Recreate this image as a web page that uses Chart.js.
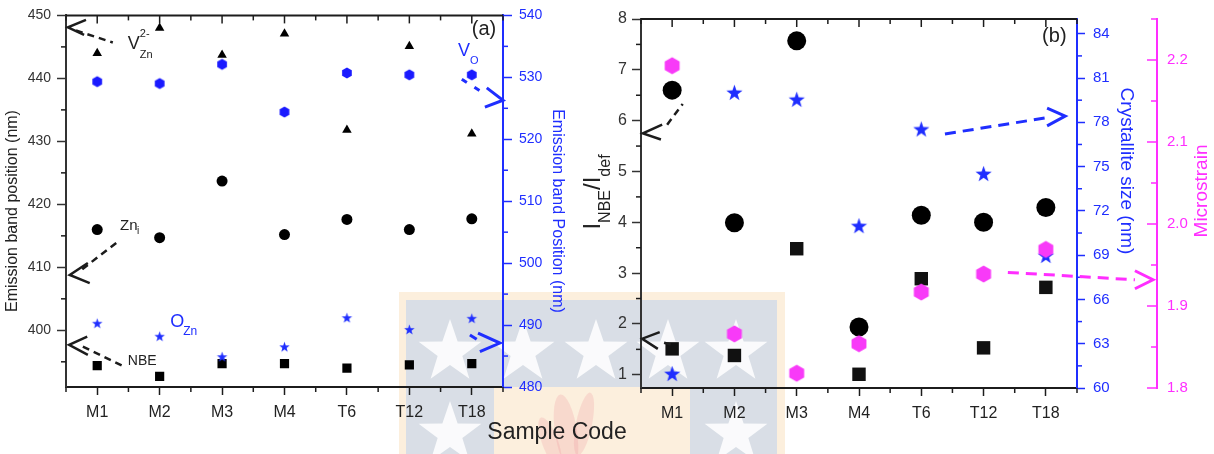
<!DOCTYPE html>
<html>
<head>
<meta charset="utf-8">
<script src="https://cdn.jsdelivr.net/npm/chart.js@4.4.1/dist/chart.umd.min.js"></script>
<style>
  html, body { margin: 0; padding: 0; background: #fff; }
  #wrap { position: relative; width: 1214px; height: 454px; overflow: hidden; font-family: "Liberation Sans", Arial, sans-serif; }
  #bg, #cA, #cB { position: absolute; top: 0; }
  #bg { left: 0; }
  #cA { left: 0; }
  #cB { left: 560px; }
  #xlab { position: absolute; left: 457px; top: 420px; width: 200px; text-align: center; font-size: 23px; line-height: 23px; color: #222; }
</style>
</head>
<body>
<div id="wrap">
  <canvas id="bg" width="1214" height="454"></canvas>
  <canvas id="cA" width="600" height="454"></canvas>
  <canvas id="cB" width="654" height="454"></canvas>
  <div id="xlab">Sample Code</div>
</div>
<script>
// sample codes on the shared x axis
const samples = ['M1', 'M2', 'M3', 'M4', 'T6', 'T12', 'T18'];

// panel (a) emission band positions, left axis (nm)
const vZnPos = [444.0, 448.0, 443.7, 447.1, 431.8, 445.1, 431.2];
const znIPos = [416.0, 414.7, 423.7, 415.2, 417.6, 416.0, 417.7];
const nbePos = [394.4, 392.7, 394.7, 394.7, 394.0, 394.5, 394.7];
// panel (a) right axis (nm)
const vOPos  = [529.3, 529.0, 532.1, 524.4, 530.7, 530.4, 530.4];
const oZnPos = [490.3, 488.2, 484.9, 486.5, 491.2, 489.3, 491.1];

// panel (b)
const ratioCircle = [6.60, 3.99, 7.57, 1.94, 4.14, 4.00, 4.29];
const ratioSquare = [1.51, 1.38, 3.48, 1.01, 2.89, 1.53, 2.72];
const crystSize   = [60.98, 80.03, 79.56, 71.0, 77.55, 74.53, 68.98];
const microstrain = [2.193, 1.866, 1.818, 1.854, 1.917, 1.939, 1.969];

// tick labels
const ticksAL = [400, 410, 420, 430, 440, 450];
const ticksAR = [480, 490, 500, 510, 520, 530, 540];
const ticksBL = [1, 2, 3, 4, 5, 6, 7, 8];
const ticksBB = [60, 63, 66, 69, 72, 75, 78, 81, 84];
const ticksBM = [1.8, 1.9, 2.0, 2.1, 2.2];

const INK = '#1c1c1c';
const BLUE = '#1f2eff';
const MAG = '#ff2eff';
const FONT = '"Liberation Sans", Arial, sans-serif';

Chart.defaults.font.family = FONT;

const pts = arr => arr.map((v, i) => ({x: i + 1, y: v}));

function hexagon(r, color) {
    const s = Math.ceil(2 * r) + 2;
    const c = document.createElement('canvas');
    c.width = s; c.height = s;
    const g = c.getContext('2d');
    g.fillStyle = color;
    g.beginPath();
    for (let k = 0; k < 6; k++) {
        const a = -Math.PI / 2 + k * Math.PI / 3;
        const x = s / 2 + r * Math.cos(a), y = s / 2 + r * Math.sin(a);
        k ? g.lineTo(x, y) : g.moveTo(x, y);
    }
    g.closePath();
    g.fill();
    return c;
}

function starPath(g, cx, cy, R, r) {
    g.beginPath();
    for (let k = 0; k < 10; k++) {
        const a = -Math.PI / 2 + k * Math.PI / 5;
        const rr = k % 2 ? r : R;
        const x = cx + rr * Math.cos(a), y = cy + rr * Math.sin(a);
        k ? g.lineTo(x, y) : g.moveTo(x, y);
    }
    g.closePath();
}

function star(R, color) {
    const s = Math.ceil(2 * R) + 2;
    const c = document.createElement('canvas');
    c.width = s; c.height = s;
    const g = c.getContext('2d');
    g.fillStyle = color;
    starPath(g, s / 2, s / 2 + R * 0.1, R, R * 0.4);
    g.fill();
    return c;
}

// watermark behind the plots
(function drawWatermark() {
    const g = document.getElementById('bg').getContext('2d');
    g.fillStyle = '#fcefdd';
    g.fillRect(399, 292, 386, 162);
    g.fillStyle = '#d9dee6';
    g.fillRect(406, 300, 371, 87);
    g.fillRect(406, 387, 88, 67);
    g.fillRect(690, 387, 87, 67);
    g.fillStyle = 'rgba(238,140,150,0.22)';
    [[566, 432, 11, 38, -0.15], [584, 424, 8, 32, 0.2], [550, 442, 8, 26, -0.35]].forEach(([x, y, rx, ry, rot]) => {
        g.beginPath(); g.ellipse(x, y, rx, ry, rot, 0, Math.PI * 2); g.fill();
    });
    g.fillStyle = 'rgba(255,255,255,0.85)';
    [[450, 352], [523, 352], [596, 352], [668, 352], [736, 352], [450, 434], [736, 434]].forEach(([x, y]) => {
        starPath(g, x, y, 33, 13); g.fill();
    });
})();

function fixTicks(values) {
    return s => { s.ticks = values.map(v => ({value: v})); };
}

function xAxis(h) {
    return {
        type: 'linear', min: 0.5, max: 7.5,
        afterBuildTicks: fixTicks(samples.map((_, i) => i + 1)),
        afterFit: s => { s.height = h; },
        ticks: {callback: v => samples[v - 1] || '', color: '#222', font: {size: 16}, padding: 8, maxRotation: 0, autoSkip: false},
        grid: {drawOnChartArea: false, tickLength: 8, color: INK, tickWidth: 1.5},
        border: {color: INK, width: 2}
    };
}

function yAxis(pos, min, max, ticks, width, color, size, tickLen, pad, fmt) {
    return {
        type: 'linear', position: pos, min, max,
        afterBuildTicks: fixTicks(ticks),
        afterFit: s => { s.width = width; },
        ticks: {color, font: {size}, padding: pad, callback: fmt || (v => v)},
        grid: {drawOnChartArea: false, drawTicks: tickLen > 0, tickLength: tickLen, color, tickWidth: 1.5},
        border: {color, width: 2}
    };
}

function line(ctx, x1, y1, x2, y2) {
    ctx.beginPath(); ctx.moveTo(x1, y1); ctx.lineTo(x2, y2); ctx.stroke();
}

// top frame, minor ticks, arrows, labels and rotated titles
const decorPlugin = {
    id: 'decor',
    afterDraw(chart, args, opts) {
        const ctx = chart.ctx, a = chart.chartArea, xs = chart.scales.x;
        ctx.save();
        ctx.strokeStyle = INK;
        ctx.lineWidth = 2;
        line(ctx, a.left, a.top, a.right, a.top);
        ctx.lineWidth = 1.5;
        for (let k = 1; k <= 15; k++) {
            const v = k * 0.5, px = xs.getPixelForValue(v);
            const major = k % 2 === 0;
            line(ctx, px, a.top, px, a.top + (major ? 8 : 5));
            if (!major) line(ctx, px, a.bottom, px, a.bottom + 5);
        }
        (opts.minor || []).forEach(m => {
            const s = chart.scales[m.id];
            const x0 = m.dir < 0 && s.position === 'left' ? s.right : s.left;
            ctx.strokeStyle = m.color;
            for (let k = 0; k < m.count; k++) {
                const py = s.getPixelForValue(m.from + k * m.step);
                line(ctx, x0, py, x0 + m.dir * m.len, py);
            }
        });
        const P = (id, p) => ({x: xs.getPixelForValue(p[0]), y: chart.scales[id].getPixelForValue(p[1])});
        (opts.arrows || []).forEach(ar => {
            ctx.strokeStyle = ar.color;
            ctx.lineWidth = ar.lw;
            ctx.lineCap = 'butt';
            ctx.setLineDash(ar.dashPat || [7, 5]);
            const d1 = P(ar.axis, ar.dash[0]), d2 = P(ar.axis, ar.dash[1]);
            line(ctx, d1.x, d1.y, d2.x, d2.y);
            ctx.setLineDash([]);
            const t = P(ar.axis, ar.tip), m1 = P(ar.axis, ar.arms[0]), m2 = P(ar.axis, ar.arms[1]);
            ctx.beginPath(); ctx.moveTo(m1.x, m1.y); ctx.lineTo(t.x, t.y); ctx.lineTo(m2.x, m2.y); ctx.stroke();
        });
        ctx.textBaseline = 'alphabetic';
        ctx.textAlign = 'left';
        (opts.texts || []).forEach(tx => {
            const p = P(tx.axis, tx.at);
            ctx.fillStyle = tx.color;
            tx.parts.forEach(pt => {
                ctx.font = pt.size + 'px ' + FONT;
                ctx.fillText(pt.t, p.x + (pt.dx || 0), p.y + (pt.dy || 0));
            });
        });
        (opts.titles || []).forEach(ti => {
            ctx.save();
            ctx.translate(ti.x, ti.y);
            ctx.rotate(ti.rot);
            ctx.fillStyle = ti.color;
            let total = 0;
            ti.parts.forEach(pt => { ctx.font = pt.size + 'px ' + FONT; pt.w = ctx.measureText(pt.t).width; total += pt.w; });
            let x = -total / 2;
            ctx.textBaseline = ti.baseline || 'middle';
            ti.parts.forEach(pt => {
                ctx.font = pt.size + 'px ' + FONT;
                ctx.fillText(pt.t, x, pt.dy || 0);
                x += pt.w;
            });
            ctx.restore();
        });
        ctx.restore();
    }
};

const common = {
    responsive: false,
    animation: false,
    events: [],
    layout: {padding: {top: 14, left: 0, right: 0, bottom: 0}}
};

// panel (a)
new Chart(document.getElementById('cA'), {
    type: 'scatter',
    data: {
        datasets: [
            {label: 'O_Zn', data: pts(oZnPos), yAxisID: 'yR', pointStyle: star(5.5, BLUE), pointRadius: 5},
            {label: 'V_O', data: pts(vOPos), yAxisID: 'yR', pointStyle: hexagon(5.6, '#1a1aff'), pointRadius: 5},
            {label: 'NBE', data: pts(nbePos), yAxisID: 'yL', pointStyle: 'rect', pointRadius: 6.5, backgroundColor: '#000', borderWidth: 0},
            {label: 'Zn_i', data: pts(znIPos), yAxisID: 'yL', pointStyle: 'circle', pointRadius: 5.5, backgroundColor: '#000', borderWidth: 0},
            {label: 'V_Zn', data: pts(vZnPos), yAxisID: 'yL', pointStyle: 'triangle', pointRadius: 5.5, backgroundColor: '#000', borderWidth: 0}
        ]
    },
    options: Object.assign({}, common, {
        scales: {
            x: xAxis(67),
            yL: yAxis('left', 391, 450, ticksAL, 66, '#333', 14, 9, 6),
            yR: yAxis('right', 480, 540, ticksAR, 97, BLUE, 14, 9, 7)
        },
        plugins: {
            legend: {display: false},
            tooltip: {enabled: false},
            decor: {
                minor: [
                    {id: 'yL', from: 395, step: 10, count: 6, len: 5, dir: -1, color: INK},
                    {id: 'yR', from: 485, step: 10, count: 6, len: 5, dir: 1, color: BLUE}
                ],
                arrows: [
                    {axis: 'yL', color: INK, lw: 2.5, tip: [0.53, 448.1], arms: [[0.82, 449.3], [0.79, 446.9]], dash: [[0.66, 447.6], [1.25, 445.7]]},
                    {axis: 'yL', color: INK, lw: 2.5, tip: [0.56, 408.8], arms: [[0.85, 410.7], [0.88, 407.5]], dash: [[0.76, 409.7], [1.32, 414.0]]},
                    {axis: 'yL', color: INK, lw: 2.5, tip: [0.55, 397.7], arms: [[0.84, 399.0], [0.85, 396.1]], dash: [[0.77, 397.4], [1.40, 394.4]]},
                    {axis: 'yR', color: BLUE, lw: 3, tip: [7.5, 526.3], arms: [[7.24, 528.3], [7.21, 525.2]], dash: [[6.84, 529.7], [7.18, 527.5]], dashPat: [6, 9]},
                    {axis: 'yR', color: BLUE, lw: 3, tip: [7.45, 487.1], arms: [[7.10, 488.7], [7.13, 485.7]], dash: [[6.97, 488.4], [7.08, 487.7]], dashPat: [8, 4]}
                ],
                texts: [
                    {axis: 'yL', at: [1.49, 444.6], color: '#222', parts: [{t: 'V', size: 18}, {t: '2-', size: 11, dx: 12, dy: -12}, {t: 'Zn', size: 11, dx: 12, dy: 9}]},
                    {axis: 'yL', at: [1.365, 415.9], color: '#222', parts: [{t: 'Zn', size: 15}, {t: 'i', size: 10, dx: 17, dy: 4}]},
                    {axis: 'yL', at: [1.49, 394.55], color: '#222', parts: [{t: 'NBE', size: 14}]},
                    {axis: 'yR', at: [2.17, 489.7], color: BLUE, parts: [{t: 'O', size: 18}, {t: 'Zn', size: 12, dx: 13, dy: 8}]},
                    {axis: 'yR', at: [6.78, 533.4], color: BLUE, parts: [{t: 'V', size: 18}, {t: 'O', size: 11, dx: 12, dy: 8}]},
                    {axis: 'yR', at: [7.0, 536.9], color: '#222', parts: [{t: '(a)', size: 20}]}
                ],
                titles: [
                    {x: 13, y: 211, rot: -Math.PI / 2, color: '#222', parts: [{t: 'Emission band position (nm)', size: 16}]},
                    {x: 557, y: 211, rot: Math.PI / 2, color: BLUE, parts: [{t: 'Emission band Position (nm)', size: 16}]}
                ]
            }
        }
    }),
    plugins: [decorPlugin]
});

// panel (b)
new Chart(document.getElementById('cB'), {
    type: 'scatter',
    data: {
        datasets: [
            {label: 'Microstrain', data: pts(microstrain), yAxisID: 'yM', pointStyle: hexagon(8.6, '#f83af8'), pointRadius: 8},
            {label: 'Crystallite size', data: pts(crystSize), yAxisID: 'yB', pointStyle: star(8.5, BLUE), pointRadius: 8},
            {label: 'ratio (square)', data: pts(ratioSquare), yAxisID: 'yL', pointStyle: 'rect', pointRadius: 9.5, backgroundColor: '#111', borderWidth: 0},
            {label: 'ratio (circle)', data: pts(ratioCircle), yAxisID: 'yL', pointStyle: 'circle', pointRadius: 9.5, backgroundColor: '#000', borderWidth: 0}
        ]
    },
    options: Object.assign({}, common, {
        scales: {
            x: xAxis(66),
            yL: yAxis('left', 0.74, 8, ticksBL, 81, '#333', 16, 9, 5),
            yB: Object.assign(yAxis('right', 60, 85, ticksBB, 80, BLUE, 15, 8, 8), {weight: 0}),
            yM: Object.assign(yAxis('right', 1.8, 2.25, ticksBM, 57, MAG, 15, 0, 10, v => v.toFixed(1)), {weight: 1})
        },
        plugins: {
            legend: {display: false},
            tooltip: {enabled: false},
            decor: {
                minor: [
                    {id: 'yL', from: 1.5, step: 1, count: 7, len: 5, dir: -1, color: INK},
                    {id: 'yB', from: 61.5, step: 3, count: 8, len: 5, dir: 1, color: BLUE},
                    {id: 'yM', from: 1.8, step: 0.1, count: 5, len: 10, dir: -1, color: MAG},
                    {id: 'yM', from: 1.85, step: 0.1, count: 5, len: 6, dir: -1, color: MAG}
                ],
                arrows: [
                    {axis: 'yL', color: INK, lw: 2.5, tip: [0.53, 5.75], arms: [[0.84, 5.92], [0.82, 5.63]], dash: [[0.92, 5.92], [1.17, 6.33]]},
                    {axis: 'yL', color: INK, lw: 2.5, tip: [0.52, 1.71], arms: [[0.80, 1.84], [0.77, 1.51]], dash: [[0.87, 1.63], [1.0, 1.59]]},
                    {axis: 'yB', color: BLUE, lw: 3, tip: [7.31, 78.42], arms: [[7.02, 78.96], [7.02, 77.76]], dash: [[5.38, 77.21], [6.98, 78.29]], dashPat: [11, 7]},
                    {axis: 'yM', color: MAG, lw: 3, tip: [8.72, 1.932], arms: [[8.43, 1.943], [8.43, 1.921]], dash: [[6.39, 1.941], [8.43, 1.932]], dashPat: [11, 7]}
                ],
                texts: [
                    {axis: 'yL', at: [6.94, 7.55], color: '#222', parts: [{t: '(b)', size: 20}]}
                ],
                titles: [
                    {x: 40, y: 192, rot: -Math.PI / 2, color: '#222', baseline: 'alphabetic',
                     parts: [{t: 'I', size: 24}, {t: 'NBE', size: 16, dy: 10}, {t: '/I', size: 24}, {t: 'def', size: 16, dy: 10}]},
                    {x: 566, y: 171, rot: Math.PI / 2, color: BLUE, parts: [{t: 'Crystallite size (nm)', size: 19}]},
                    {x: 642, y: 191, rot: -Math.PI / 2, color: MAG, parts: [{t: 'Microstrain', size: 19}]}
                ]
            }
        }
    }),
    plugins: [decorPlugin]
});
</script>
</body>
</html>
